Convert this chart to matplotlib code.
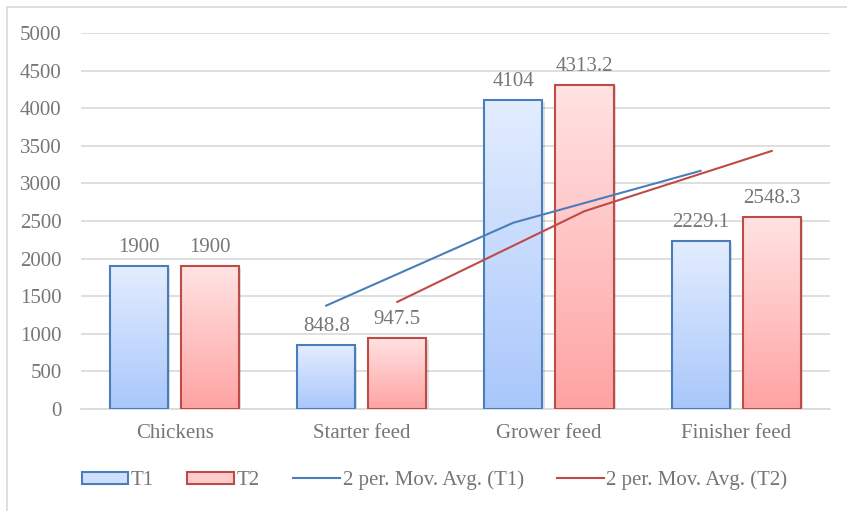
import numpy as np
import matplotlib.pyplot as plt
from matplotlib.patches import Rectangle, Patch
from matplotlib.lines import Line2D
from matplotlib.colors import LinearSegmentedColormap

plt.rcParams["font.family"] = ["Liberation Serif", "DejaVu Serif"]

categories = ["Chickens", "Starter feed", "Grower feed", "Finisher feed"]
t1 = [1900, 848.8, 4104, 2229.1]
t2 = [1900, 947.5, 4313.2, 2548.3]
t1_labels = ["1900", "848.8", "4104", "2229.1"]
t2_labels = ["1900", "947.5", "4313.2", "2548.3"]

text_color = "#767676"
blue_edge = "#4a7ebb"
red_edge = "#be4b48"
blue_cmap = LinearSegmentedColormap.from_list("b", ["#a9c7fb", "#e3edff"])
red_cmap = LinearSegmentedColormap.from_list("r", ["#ffa3a3", "#ffe3e3"])


def moving_avg(vals, n=2):
    return [np.mean(vals[i - n + 1:i + 1]) for i in range(n - 1, len(vals))]


fig = plt.figure(figsize=(8.47, 5.11), dpi=100)
ax = fig.add_axes([0.0956, 0.1996, 0.884, 0.736])

# chart border (only left and top edges fall inside the picture)
fig.patches.append(Rectangle((0.0085, -0.05), 1.1, 1.036, transform=fig.transFigure,
                             fill=False, edgecolor="#d9d9d9", linewidth=1.2))

x = np.arange(len(categories))
width = 0.31
offset = 0.19
ax.set_xlim(-0.5, len(categories) - 0.5)
ax.set_ylim(0, 5000)

grad = np.linspace(0, 1, 256).reshape(-1, 1)
for vals, labels, sign, cmap, edge in [(t1, t1_labels, -1, blue_cmap, blue_edge),
                                       (t2, t2_labels, 1, red_cmap, red_edge)]:
    for xi, v, lab in zip(x, vals, labels):
        x0 = xi + sign * offset - width / 2
        # soft shadow
        sh = Rectangle((x0 + 0.012, 0), width, v - 25, facecolor="#000000", alpha=0.12,
                       edgecolor="none", zorder=2)
        ax.add_patch(sh)
        im = ax.imshow(grad, cmap=cmap, aspect="auto", origin="lower",
                       extent=[x0, x0 + width, 0, v], zorder=3)
        rect = Rectangle((x0, 0), width, v, facecolor="none", edgecolor=edge,
                         linewidth=1.5, zorder=4)
        ax.add_patch(rect)
        im.set_clip_path(rect)
        ax.text(xi + sign * offset, v + 120, lab, ha="center", va="bottom",
                fontsize=15, color=text_color)

ax.plot(x[1:] - offset, moving_avg(t1), color=blue_edge, linewidth=1.5, zorder=5)
ax.plot(x[1:] + offset, moving_avg(t2), color=red_edge, linewidth=1.5, zorder=5)

ax.set_yticks(np.arange(0, 5001, 500))
ax.set_xticks(x)
ax.set_xticklabels(categories)
ax.tick_params(axis="both", length=0, labelsize=15, labelcolor=text_color)
ax.tick_params(axis="x", pad=11)
ax.tick_params(axis="y", pad=14)
ax.grid(axis="y", color="#d9d9d9", linewidth=1.2, zorder=0)
ax.set_axisbelow(True)
for s in ["top", "right", "left"]:
    ax.spines[s].set_visible(False)
ax.spines["bottom"].set_color("#d9d9d9")
ax.spines["bottom"].set_linewidth(1.2)

# legend
handles = [Patch(facecolor="#cfe0fd", edgecolor=blue_edge, linewidth=1.5),
           Patch(facecolor="#ffcccc", edgecolor=red_edge, linewidth=1.5),
           Line2D([], [], color=blue_edge, linewidth=1.5),
           Line2D([], [], color=red_edge, linewidth=1.5)]
labels = ["T1", "T2", "2 per. Mov. Avg. (T1)", "2 per. Mov. Avg. (T2)"]
leg = fig.legend(handles, labels, loc="center", bbox_to_anchor=(0.513, 0.06), ncol=4,
                 frameon=False, fontsize=15, handlelength=2.25, handleheight=0.55,
                 handletextpad=0.12, columnspacing=1.6)
for t in leg.get_texts():
    t.set_color(text_color)

fig.savefig("out.png", dpi=100)
